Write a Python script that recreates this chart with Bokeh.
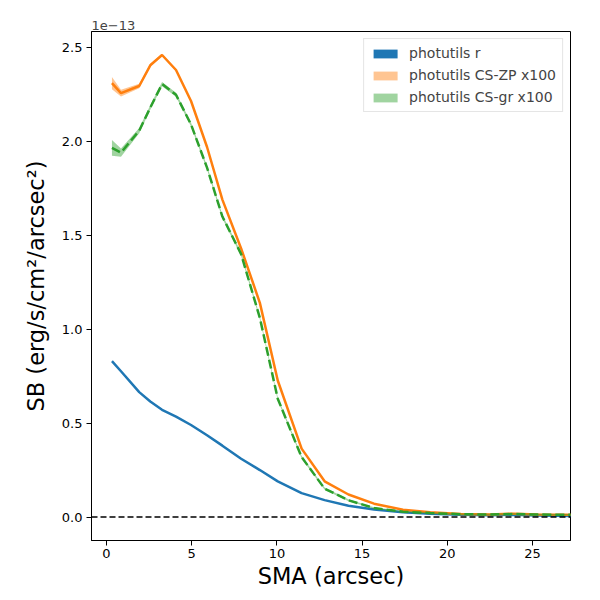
import numpy as np
from bokeh.plotting import figure
from bokeh.models import (ColumnDataSource, Span, FixedTicker, PrintfTickFormatter,
                          Legend, LegendItem, Range1d)
from bokeh.embed import file_html
from bokeh.resources import INLINE

# ---- data (surface brightness in units of 1e-13 erg/s/cm^2/arcsec^2) ----
sma = [0.32, 0.85, 1.92, 2.57, 3.26, 4.08, 4.96, 5.9, 6.8, 7.9, 9.0, 10.05,
       11.45, 12.8, 14.2, 15.7, 17.4, 19.0, 20.8, 22.5, 23.9, 25.3, 27.8]

sb_r = [0.83, 0.776, 0.665, 0.615, 0.571, 0.535, 0.49, 0.435, 0.38, 0.31, 0.25, 0.19,
        0.127, 0.09, 0.06, 0.04, 0.026, 0.018, 0.012, 0.009, 0.012, 0.008, 0.005]
err_r = [0.0] * 23

sb_zp = [2.31, 2.257, 2.295, 2.405, 2.46, 2.38, 2.215, 1.97, 1.69, 1.43, 1.14, 0.727,
         0.364, 0.19, 0.12, 0.071, 0.039, 0.025, 0.016, 0.014, 0.018, 0.014, 0.012]
err_zp = [0.033, 0.018, 0.012, 0.008, 0.006, 0.006, 0.006, 0.005, 0.005, 0.005, 0.004, 0.004,
          0.003, 0.003, 0.002, 0.002, 0.002, 0.002, 0.002, 0.002, 0.002, 0.002, 0.002]

sb_gr = [1.965, 1.94, 2.057, 2.18, 2.305, 2.248, 2.09, 1.86, 1.60, 1.40, 1.06, 0.63,
         0.319, 0.151, 0.089, 0.048, 0.028, 0.021, 0.015, 0.013, 0.016, 0.013, 0.012]
err_gr = [0.042, 0.022, 0.014, 0.012, 0.011, 0.011, 0.011, 0.010, 0.010, 0.010, 0.009, 0.008,
          0.007, 0.006, 0.005, 0.004, 0.004, 0.004, 0.004, 0.004, 0.004, 0.004, 0.004]

labels = ["photutils r", "photutils CS-ZP x100", "photutils CS-gr x100"]
x_ticks = [0, 5, 10, 15, 20, 25]
y_ticks = [0.0, 0.5, 1.0, 1.5, 2.0, 2.5]

FONT = "DejaVu Sans"

p = figure(width=592, height=592, output_backend="svg", toolbar_location=None,
           x_range=Range1d(-0.88, 27.23), y_range=Range1d(-0.125, 2.585),
           min_border_left=91, min_border_right=22, min_border_top=31, min_border_bottom=52,
           title="1e\u221213")
p.title.text_font = FONT
p.title.text_font_size = "13px"
p.title.text_font_style = "normal"
p.title.align = "left"
p.title.offset = 0
p.title.standoff = 3

p.xgrid.visible = False
p.ygrid.visible = False
p.outline_line_color = "black"
p.outline_line_width = 1
p.background_fill_color = "white"
p.border_fill_color = "white"

for ax in (p.xaxis[0], p.yaxis[0]):
    ax.axis_line_color = "black"
    ax.major_tick_out = 5
    ax.major_tick_in = 0
    ax.minor_tick_out = 0
    ax.minor_tick_in = 0
    ax.major_label_text_font = FONT
    ax.major_label_text_font_size = "13px"
    ax.major_label_text_color = "black"
    ax.axis_label_text_font = FONT
    ax.axis_label_text_font_size = "22.5px"
    ax.axis_label_text_font_style = "normal"
    ax.axis_label_text_color = "black"

p.xaxis.ticker = FixedTicker(ticks=x_ticks)
p.yaxis.ticker = FixedTicker(ticks=y_ticks)
p.yaxis.formatter = PrintfTickFormatter(format="%.1f")
p.xaxis.axis_label = "SMA (arcsec)"
p.yaxis.axis_label = "SB (erg/s/cm\u00b2/arcsec\u00b2)"
p.xaxis.major_label_standoff = 3
p.yaxis.major_label_standoff = 4
p.xaxis.axis_label_standoff = 2
p.yaxis.axis_label_standoff = 10

colors = ["#1f77b4", "#ff7f0e", "#2ca02c"]
band_alpha = [1.0, 0.45, 0.45]
series = [(sb_r, err_r), (sb_zp, err_zp), (sb_gr, err_gr)]
dashes = ["solid", "solid", "9 4"]

band_renderers = []
for (vals, errs), c, a, d in zip(series, colors, band_alpha, dashes):
    v = np.array(vals)
    e = np.array(errs)
    src = ColumnDataSource(dict(x=sma, y=v, lo=v - e, hi=v + e))
    br = p.varea(x="x", y1="lo", y2="hi", source=src, fill_color=c, fill_alpha=a)
    band_renderers.append(br)
    p.line(x="x", y="y", source=src, line_color=c, line_width=2.5, line_dash=d)

p.add_layout(Span(location=0, dimension="width", line_color="black",
                  line_width=1.5, line_dash="6 3"))

legend = Legend(items=[LegendItem(label=l, renderers=[r]) for l, r in zip(labels, band_renderers)],
                location="top_right")
legend.label_text_font = FONT
legend.label_text_font_size = "14px"
legend.glyph_width = 30
legend.glyph_height = 11
legend.label_height = 14
legend.spacing = 6
legend.padding = 6
legend.margin = 7
legend.label_standoff = 9
legend.border_line_color = "#cccccc"
legend.border_line_width = 1
legend.background_fill_alpha = 0.8
p.add_layout(legend)

open("out.html", "w").write(file_html(p, INLINE))
